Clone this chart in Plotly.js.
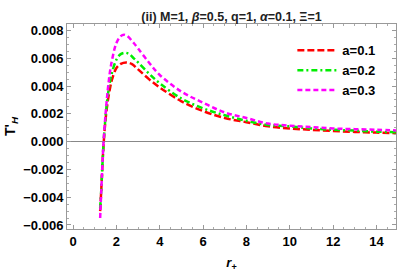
<!DOCTYPE html>
<html><head><meta charset="utf-8">
<script src="https://cdn.plot.ly/plotly-3.0.1.min.js"></script>
<style>html,body{margin:0;padding:0;background:#fff}#c{width:398px;height:275px}</style>
</head><body><div id="c"></div>
<script>
const r1 = [1.25,1.3,1.4,1.5,1.6,1.7,1.8,2.0,2.2,2.45,2.7,3.0,3.5,4.0,5.0,6.0,7.0,8.0,9.0,10,11,12,13,14,15];
const T1 = [-0.0050,-0.0035,-0.0004,0.0016,0.0029,0.0038,0.0045,0.0053,0.0056,0.0057,0.0056,0.0052,0.0045,0.0039,0.0029,0.0022,0.0017,0.0014,0.0011,0.00095,0.00085,0.00077,0.0007,0.00065,0.0006];
const r2 = [1.25,1.3,1.4,1.5,1.6,1.7,1.8,2.0,2.2,2.4,2.6,2.8,3.0,3.5,4.0,5.0,6.0,7.0,8.0,9.0,10,11,12,13,14,15];
const T2 = [-0.0048,-0.0035,-0.0003,0.0018,0.0033,0.0043,0.0050,0.0059,0.0063,0.0064,0.0063,0.0060,0.0057,0.0049,0.0042,0.0031,0.0024,0.0019,0.0015,0.0012,0.0011,0.00095,0.00085,0.0008,0.00072,0.00068];
const r3 = [1.25,1.3,1.35,1.4,1.5,1.6,1.7,1.8,2.0,2.2,2.35,2.5,2.8,3.0,3.5,4.0,5.0,6.0,7.0,8.0,9.0,10,11,12,13,14,15];
const T3 = [-0.0055,-0.0036,-0.0018,-0.0002,0.0020,0.0037,0.0050,0.0059,0.0071,0.0076,0.0077,0.0076,0.0071,0.0067,0.0057,0.0048,0.0036,0.0028,0.0021,0.0017,0.0013,0.00115,0.00105,0.00095,0.0009,0.00085,0.0008];
const names = ["a=0.1","a=0.2","a=0.3"];
const xTicks = [0,2,4,6,8,10,12,14];
const yTicks = [-0.006,-0.004,-0.002,0,0.002,0.004,0.006,0.008];

const F = "Liberation Sans, Arial, sans-serif";
const traces = [
  {x:r1,y:T1,name:names[0],mode:'lines',line:{color:'#ff0000',width:2.5,dash:'7px,3px',shape:'spline'}},
  {x:r2,y:T2,name:names[1],mode:'lines',line:{color:'#00ee00',width:2.5,dash:'6px,3px,2px,3px',shape:'spline'}},
  {x:r3,y:T3,name:names[2],mode:'lines',line:{color:'#ff00ff',width:2.5,dash:'5px,3px',shape:'spline'}}
];
const axisCommon = {
  showline:true, linecolor:'#999', linewidth:1, mirror:'ticks',
  ticks:'inside', ticklen:4, tickcolor:'#999', showgrid:false,
  tickfont:{family:F,size:13,color:'#000',weight:'bold'},
};
const layout = {
  width:398, height:275,
  margin:{l:67,r:2,t:24,b:46},
  paper_bgcolor:'#fff', plot_bgcolor:'#fff',
  font:{family:F,color:'#000'},
  title:{text:'(ii) M=1, <i>β</i>=0.5, q=1, <i>α</i>=0.1, Ξ=1', x:0.5, xref:'paper', y:0.955, yref:'container',
         font:{family:F,size:12.5,color:'#222',weight:'bold'}},
  xaxis:Object.assign({}, axisCommon, {
    range:[-0.28,14.9], tickvals:xTicks, ticktext:xTicks.map(String), zeroline:false,
    minor:{ticks:'inside', ticklen:2, tickcolor:'#aaa', dtick:0.5, showgrid:false},
    title:{text:'<i>r</i><sub>+</sub>', font:{family:F,size:13,color:'#000',weight:'bold'}, standoff:10}
  }),
  yaxis:Object.assign({}, axisCommon, {
    range:[-0.00629,0.00847], tickvals:yTicks, ticktext:yTicks.map(v=>v.toFixed(3).replace('-','−')),
    zeroline:true, zerolinecolor:'#888', zerolinewidth:1.2,
    minor:{ticks:'inside', ticklen:2, tickcolor:'#aaa', dtick:0.0005, showgrid:false},
    title:{text:"T'<sub><i>H</i></sub>", font:{family:F,size:14,color:'#000',weight:'bold'}, standoff:4}
  }),
  legend:{x:0.685, y:0.945, xanchor:'left', yanchor:'top', bgcolor:'rgba(0,0,0,0)',
          font:{family:F,size:13,color:'#000',weight:'bold'}, tracegroupgap:0, itemwidth:40},
  showlegend:true
};
Plotly.newPlot('c', traces, layout, {displayModeBar:false, staticPlot:true});
</script></body></html>
